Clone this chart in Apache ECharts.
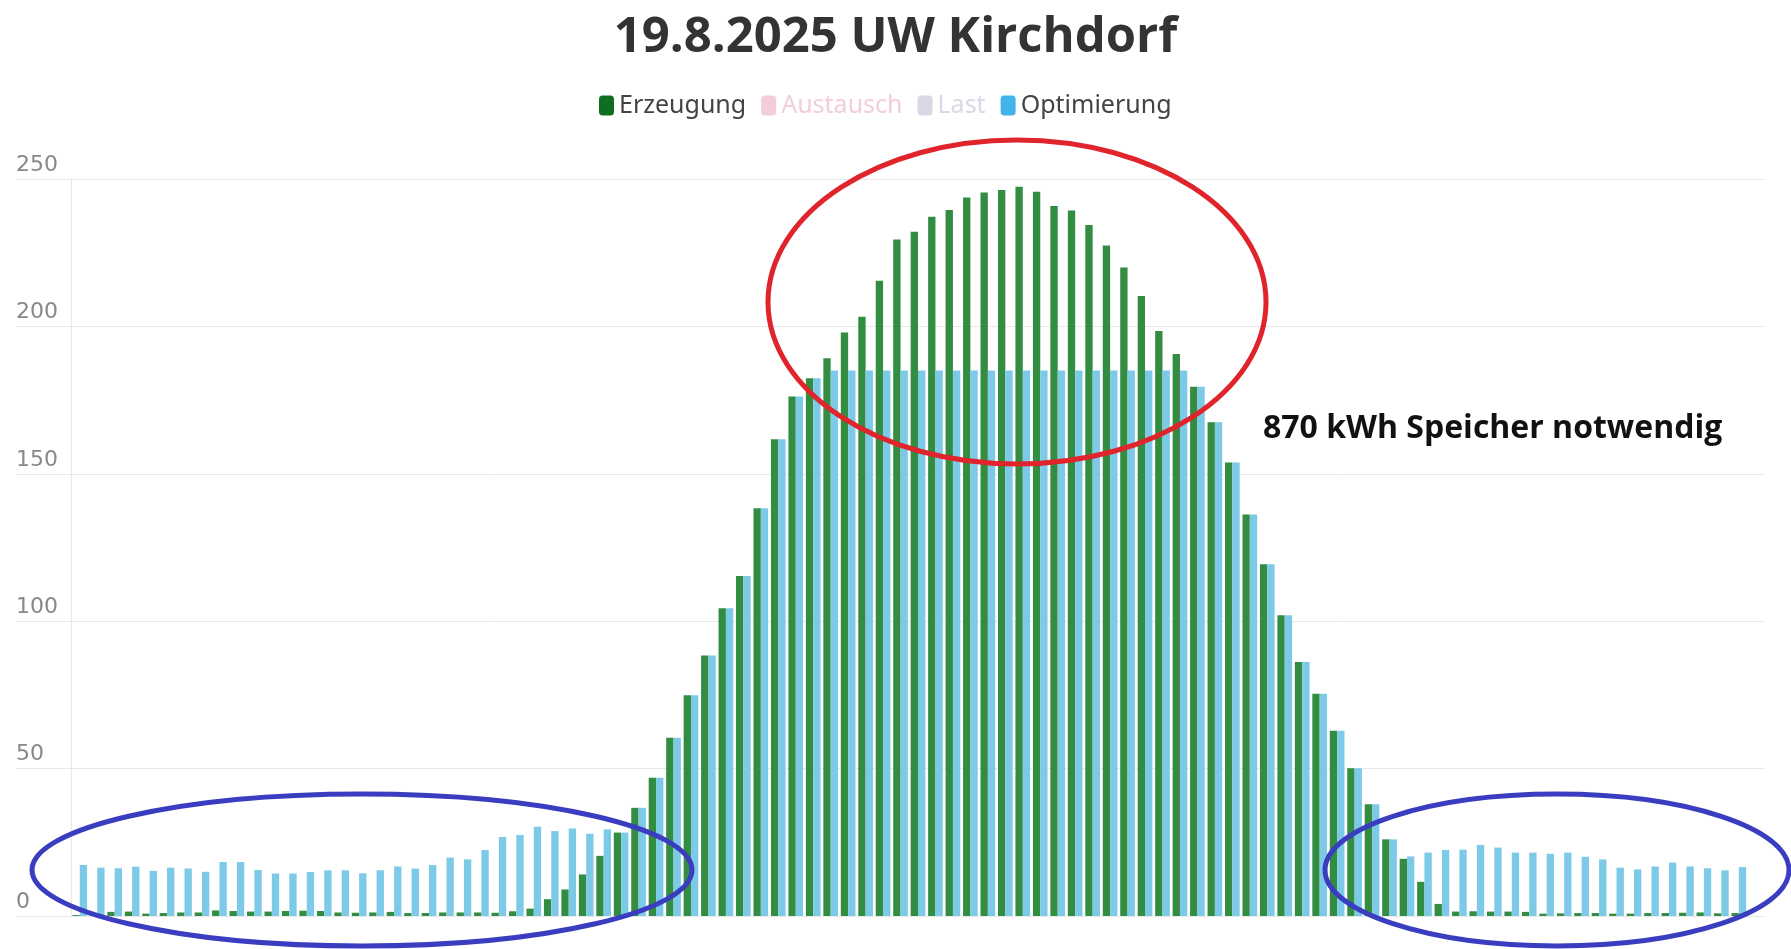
<!DOCTYPE html>
<html>
<head>
<meta charset="utf-8">
<title>19.8.2025 UW Kirchdorf</title>
<script src="https://cdn.jsdelivr.net/npm/echarts@6.0.0/dist/echarts.min.js"></script>
<style>
  html, body { margin: 0; padding: 0; background: #fff; }
  #chart { width: 1791px; height: 949px; }
</style>
</head>
<body>
<div id="chart"></div>
<script>
// 15-Minuten-Werte, letzte Kategorie (24:00) leer
var zeiten = [
  '00:00','00:15','00:30','00:45','01:00','01:15','01:30','01:45',
  '02:00','02:15','02:30','02:45','03:00','03:15','03:30','03:45',
  '04:00','04:15','04:30','04:45','05:00','05:15','05:30','05:45',
  '06:00','06:15','06:30','06:45','07:00','07:15','07:30','07:45',
  '08:00','08:15','08:30','08:45','09:00','09:15','09:30','09:45',
  '10:00','10:15','10:30','10:45','11:00','11:15','11:30','11:45',
  '12:00','12:15','12:30','12:45','13:00','13:15','13:30','13:45',
  '14:00','14:15','14:30','14:45','15:00','15:15','15:30','15:45',
  '16:00','16:15','16:30','16:45','17:00','17:15','17:30','17:45',
  '18:00','18:15','18:30','18:45','19:00','19:15','19:30','19:45',
  '20:00','20:15','20:30','20:45','21:00','21:15','21:30','21:45',
  '22:00','22:15','22:30','22:45','23:00','23:15','23:30','23:45',
  '24:00'
];

var erzeugung = [
  0.3, 0.8, 1.4, 1.5, 0.8, 1.0, 1.2, 1.2,
  1.9, 1.7, 1.5, 1.5, 1.7, 1.8, 1.7, 1.2,
  1.1, 1.2, 1.4, 1.0, 1.0, 1.2, 1.2, 1.2,
  1.1, 1.6, 2.5, 5.7, 9.0, 14.1, 20.4, 28.3,
  36.7, 46.9, 60.5, 74.9, 88.4, 104.4, 115.3, 138.3,
  161.7, 176.2, 182.4, 189.2, 197.9, 203.3, 215.5, 229.5,
  232.1, 237.2, 239.5, 243.7, 245.4, 246.3, 247.4, 245.7,
  240.8, 239.3, 234.4, 227.4, 220.0, 210.3, 198.4, 190.6,
  179.5, 167.5, 153.8, 136.2, 119.3, 102.0, 86.2, 75.4,
  62.8, 50.1, 37.9, 26.0, 19.4, 11.6, 4.1, 1.5,
  1.6, 1.5, 1.5, 1.4, 0.8, 0.9, 1.0, 1.0,
  0.8, 0.8, 1.0, 1.0, 1.1, 1.2, 0.9, 1.0,
  null
];

var optimierung = [
  17.3, 16.4, 16.2, 16.7, 15.3, 16.4, 16.1, 15.0,
  18.3, 18.3, 15.6, 14.4, 14.4, 14.9, 15.5, 15.5,
  14.5, 15.5, 16.8, 16.1, 17.3, 19.8, 19.2, 22.4,
  26.8, 27.5, 30.3, 28.8, 29.7, 27.9, 29.4, 28.3,
  36.7, 46.9, 60.5, 74.9, 88.4, 104.4, 115.3, 138.3,
  161.7, 176.2, 182.4, 185, 185, 185, 185, 185,
  185, 185, 185, 185, 185, 185, 185, 185,
  185, 185, 185, 185, 185, 185, 185, 185,
  179.5, 167.5, 153.8, 136.2, 119.3, 102.0, 86.2, 75.4,
  62.8, 50.1, 37.9, 26.0, 20.2, 21.5, 22.4, 22.5,
  24.1, 23.2, 21.5, 21.5, 21.1, 21.5, 20.1, 19.2,
  16.4, 15.8, 16.8, 18.1, 16.8, 16.2, 15.5, 16.6,
  null
];

var austausch = [];
var last = [];

var gridColor = '#e8e8e8';

var option = {
  animation: false,
  backgroundColor: '#ffffff',
  title: {
    text: '19.8.2025 UW Kirchdorf',
    left: 'center',
    top: 9,
    textStyle: {
      fontFamily: 'Open Sans',
      fontWeight: 700,
      fontSize: 49,
      color: '#333333'
    }
  },
  legend: {
    top: 88,
    left: 594,
    icon: 'roundRect',
    itemWidth: 15,
    itemHeight: 20,
    itemGap: 15,
    textStyle: { fontFamily: 'Noto Sans', fontSize: 25, color: '#444444' },
    selected: { 'Austausch': false, 'Last': false },
    data: [
      { name: 'Erzeugung', itemStyle: { color: '#0f6e1f' } },
      { name: 'Austausch', inactiveColor: '#f3cdd8' },
      { name: 'Last', inactiveColor: '#d8d8e6' },
      { name: 'Optimierung', itemStyle: { color: '#42b4ec' } }
    ]
  },
  grid: {
    left: 71,
    right: 26,
    top: 179,
    bottom: 33,
    outerBoundsMode: 'none'
  },
  xAxis: {
    type: 'category',
    data: zeiten,
    axisLine: { show: false },
    axisTick: { show: false },
    axisLabel: { show: false },
    splitLine: { show: false }
  },
  yAxis: {
    type: 'value',
    min: 0,
    max: 250,
    interval: 50,
    axisLine: { show: true, lineStyle: { color: gridColor, width: 1 } },
    axisTick: { show: true, length: 55, lineStyle: { color: gridColor, width: 1 } },
    splitLine: { show: true, lineStyle: { color: gridColor, width: 1 } },
    axisLabel: {
      align: 'left',
      verticalAlign: 'bottom',
      margin: 55,
      padding: [0, 0, 3, 0],
      fontFamily: 'DejaVu Sans',
      fontSize: 22,
      color: '#888888'
    }
  },
  series: [
    {
      name: 'Erzeugung',
      type: 'bar',
      data: erzeugung,
      barGap: '0%',
      barCategoryGap: '16%',
      itemStyle: { color: '#328c42' }
    },
    {
      name: 'Austausch',
      type: 'bar',
      data: austausch,
      itemStyle: { color: '#f7c6d4' }
    },
    {
      name: 'Last',
      type: 'bar',
      data: last,
      itemStyle: { color: '#d5d5e8' }
    },
    {
      name: 'Optimierung',
      type: 'bar',
      data: optimierung,
      barGap: '0%',
      barCategoryGap: '16%',
      itemStyle: { color: '#7ccae8' }
    }
  ],
  graphic: [
    {
      type: 'ellipse', z: 100,
      shape: { cx: 1017, cy: 302, rx: 249, ry: 162 },
      style: { fill: 'none', stroke: '#e0242b', lineWidth: 5 }
    },
    {
      type: 'ellipse', z: 100,
      shape: { cx: 362, cy: 870, rx: 330, ry: 76 },
      style: { fill: 'none', stroke: '#3a3dbf', lineWidth: 5 }
    },
    {
      type: 'ellipse', z: 100,
      shape: { cx: 1557, cy: 870, rx: 232, ry: 76 },
      style: { fill: 'none', stroke: '#3a3dbf', lineWidth: 5 }
    },
    {
      type: 'text', z: 100,
      x: 1263, y: 429,
      style: {
        text: '870 kWh Speicher notwendig',
        fontFamily: 'Open Sans',
        fontWeight: 700,
        fontSize: 32,
        fill: '#111111',
        align: 'left',
        verticalAlign: 'middle'
      }
    }
  ]
};

var chart = echarts.init(document.getElementById('chart'));
chart.setOption(option);
</script>
</body>
</html>
